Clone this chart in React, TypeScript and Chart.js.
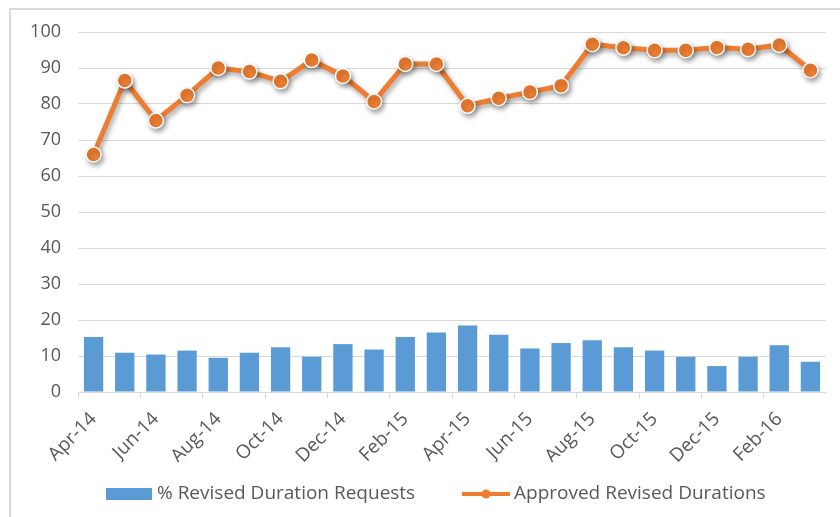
import React, { useEffect, useRef } from "react";
import { Chart, registerables } from "chart.js";

Chart.register(...registerables);

const months = [
  "Apr-14", "May-14", "Jun-14", "Jul-14", "Aug-14", "Sep-14", "Oct-14", "Nov-14",
  "Dec-14", "Jan-15", "Feb-15", "Mar-15", "Apr-15", "May-15", "Jun-15", "Jul-15",
  "Aug-15", "Sep-15", "Oct-15", "Nov-15", "Dec-15", "Jan-16", "Feb-16", "Mar-16",
];

const revisedRequests = [
  15.3, 10.9, 10.4, 11.5, 9.5, 10.9, 12.4, 9.8, 13.3, 11.8, 15.3, 16.5,
  18.5, 15.9, 12.1, 13.6, 14.4, 12.4, 11.5, 9.8, 7.2, 9.8, 13.0, 8.4,
];

const approvedDurations = [
  66.0, 86.5, 75.4, 82.4, 90.0, 89.0, 86.3, 92.2, 87.8, 80.7, 91.1, 91.1,
  79.5, 81.6, 83.3, 85.1, 96.6, 95.6, 94.9, 94.9, 95.7, 95.2, 96.4, 89.4,
];

const seriesNames = ["% Revised Duration Requests", "Approved Revised Durations"];

const BLUE = "#5B9BD5";
const ORANGE = "#ED7D31";
const TEXT = "#595959";
const GRID = "#D9D9D9";
const FONT = "'Open Sans'";

const framePlugin = {
  id: "frame",
  beforeDraw(chart: any) {
    const ctx = chart.ctx;
    ctx.save();
    ctx.fillStyle = "#ffffff";
    ctx.fillRect(0, 0, chart.width, chart.height);
    ctx.strokeStyle = "#D9D9D9";
    ctx.lineWidth = 2;
    ctx.beginPath();
    ctx.moveTo(10, chart.height + 5);
    ctx.lineTo(10, 9);
    ctx.lineTo(chart.width + 5, 9);
    ctx.stroke();
    ctx.restore();
  },
};

const shadowPlugin = {
  id: "lineShadow",
  beforeDatasetDraw(chart: any, args: any) {
    if (args.index === 1) {
      const ctx = chart.ctx;
      ctx.save();
      ctx.shadowColor = "rgba(0,0,0,0.35)";
      ctx.shadowBlur = 5;
      ctx.shadowOffsetX = 2;
      ctx.shadowOffsetY = 3;
    }
  },
  afterDatasetDraw(chart: any, args: any) {
    if (args.index === 1) {
      chart.ctx.restore();
    }
  },
};

const legendPlugin = {
  id: "customLegend",
  afterDraw(chart: any) {
    const ctx = chart.ctx;
    ctx.save();
    const y = 494;
    ctx.font = `19px ${FONT}`;
    ctx.textBaseline = "middle";
    ctx.textAlign = "left";
    // bar item
    ctx.fillStyle = BLUE;
    ctx.fillRect(106, y - 6, 46, 12);
    ctx.fillStyle = TEXT;
    ctx.fillText(seriesNames[0], 157, y);
    // line item
    ctx.strokeStyle = ORANGE;
    ctx.lineWidth = 4;
    ctx.beginPath();
    ctx.moveTo(462, y);
    ctx.lineTo(510, y);
    ctx.stroke();
    ctx.fillStyle = ORANGE;
    ctx.beginPath();
    ctx.arc(486, y, 4.5, 0, Math.PI * 2);
    ctx.fill();
    ctx.fillStyle = TEXT;
    ctx.fillText(seriesNames[1], 514, y);
    ctx.restore();
  },
};

export default function App() {
  const ref = useRef<HTMLCanvasElement>(null);

  useEffect(() => {
    document.body.style.margin = "0";
    const canvas = ref.current;
    if (!canvas) return;
    const chart = new Chart(canvas, {
      type: "bar",
      data: {
        labels: months,
        datasets: [
          {
            type: "bar",
            label: seriesNames[0],
            data: revisedRequests,
            backgroundColor: BLUE,
            borderWidth: 0,
            barPercentage: 0.62,
            categoryPercentage: 1,
            order: 2,
          },
          {
            type: "line",
            label: seriesNames[1],
            data: approvedDurations,
            borderColor: ORANGE,
            borderWidth: 5,
            backgroundColor: ORANGE,
            pointRadius: 7.5,
            pointBorderColor: "#ffffff",
            pointBorderWidth: 1.5,
            pointBackgroundColor: ORANGE,
            tension: 0,
            order: 1,
          } as any,
        ],
      },
      options: {
        animation: false,
        responsive: false,
        maintainAspectRatio: false,
        layout: { padding: { left: 0, top: 32, right: 14, bottom: 55 } },
        plugins: {
          legend: { display: false },
          tooltip: { enabled: false },
        },
        scales: {
          x: {
            offset: true,
            grid: {
              offset: true,
              drawOnChartArea: false,
              drawTicks: true,
              tickLength: 6,
              color: (c: any) => (c.index % 2 === 0 ? GRID : "rgba(0,0,0,0)"),
              lineWidth: 1,
            },
            border: { display: true, color: GRID, width: 1 },
            ticks: {
              autoSkip: false,
              minRotation: 45,
              maxRotation: 45,
              padding: 10,
              color: TEXT,
              font: { family: FONT, size: 19 },
              callback: (_v: any, i: number) => (i % 2 === 0 ? months[i] : ""),
            },
            afterFit: (s: any) => {
              s.height = 70;
            },
          },
          y: {
            min: 0,
            max: 100,
            ticks: {
              stepSize: 10,
              padding: 17,
              color: TEXT,
              font: { family: FONT, size: 18 },
            },
            grid: { color: GRID, lineWidth: 1, drawTicks: false },
            border: { display: false },
            afterFit: (s: any) => {
              s.width = 78;
            },
          },
        },
      },
      plugins: [framePlugin, shadowPlugin, legendPlugin],
    });
    return () => chart.destroy();
  }, []);

  return <canvas ref={ref} width={840} height={517} style={{ display: "block" }} />;
}
